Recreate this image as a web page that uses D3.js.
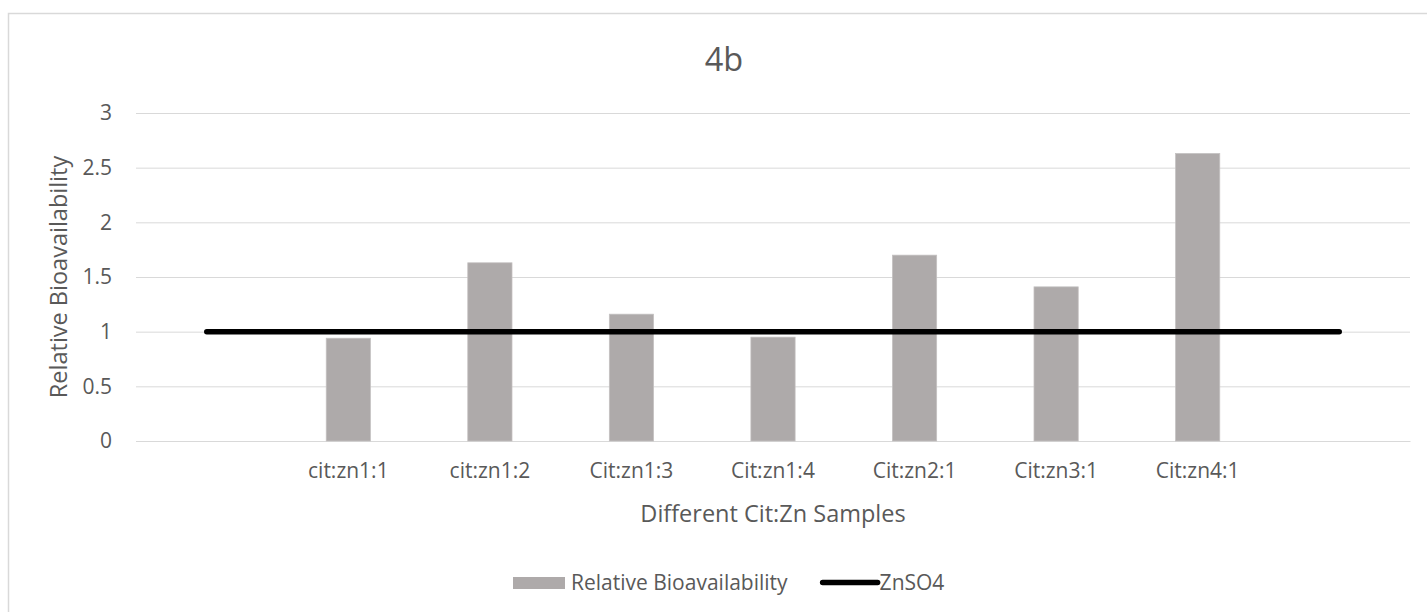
<!DOCTYPE html>
<html>
<head>
<meta charset="utf-8">
<script src="https://cdn.jsdelivr.net/npm/d3@7"></script>
<style>
  html, body { margin: 0; padding: 0; background: #fff; }
  svg { display: block; }
  text { font-family: "Open Sans", "Liberation Sans", sans-serif; fill: #595959; }
</style>
</head>
<body>
<svg id="chart" width="1427" height="612"></svg>
<script>
// Sample categories (the empty first and last slots pad the ZnSO4 reference line)
const categories = ["", "cit:zn1:1", "cit:zn1:2", "Cit:zn1:3", "Cit:zn1:4", "Cit:zn2:1", "Cit:zn3:1", "Cit:zn4:1", ""];
const relativeBioavailability = [null, 0.94, 1.63, 1.16, 0.95, 1.70, 1.41, 2.63, null];
const znso4 = [1, 1, 1, 1, 1, 1, 1, 1, 1];
const yTicks = [0, 0.5, 1, 1.5, 2, 2.5, 3];
const yTickLabels = ["0", "0.5", "1", "1.5", "2", "2.5", "3"];
const title = "4b";
const xTitle = "Different Cit:Zn Samples";
const yTitle = "Relative Bioavailability";
const legendLabels = ["Relative Bioavailability", "ZnSO4"];

const svg = d3.select("#chart");
const W = 1427, H = 612;
const plot = { left: 136, right: 1410, top: 113, bottom: 441 };
const chartCenterX = 724;
const FONT = "'Open Sans', 'Liberation Sans', sans-serif";
const tickSize = 21, axisTitleSize = 23.5, titleSize = 32.5;

const barColor = "#AEAAAA";
const gridColor = "#D9D9D9";

// chart frame (left and top edges fall inside the view)
svg.append("path")
  .attr("d", `M8.5,${H} V13.5 H${W}`)
  .attr("fill", "none").attr("stroke", gridColor).attr("stroke-width", 1.5);

const x = d3.scaleBand().domain(d3.range(categories.length))
  .range([plot.left, plot.right]).paddingInner(0).paddingOuter(0);
const y = d3.scaleLinear().domain([0, 3]).range([plot.bottom, plot.top]);

// horizontal gridlines and value labels
const yAxis = d3.axisLeft(y).tickValues(yTicks)
  .tickFormat((d, i) => yTickLabels[i]).tickSize(-(plot.right - plot.left)).tickPadding(24);
const gy = svg.append("g").attr("transform", `translate(${plot.left},0)`).call(yAxis);
gy.select(".domain").remove();
gy.selectAll(".tick line").attr("stroke", gridColor).attr("stroke-width", 1);
gy.selectAll(".tick text").attr("font-size", tickSize).attr("fill", "#595959")
  .style("font-family", FONT);

// category axis
const xAxis = d3.axisBottom(x).tickFormat(i => categories[i]).tickSize(0).tickPadding(22);
const gx = svg.append("g").attr("transform", `translate(0,${plot.bottom})`).call(xAxis);
gx.select(".domain").attr("stroke", gridColor);
gx.selectAll(".tick text").attr("font-size", tickSize).attr("fill", "#595959")
  .style("font-family", FONT);

// bars: gap width 220% of the bar width
const barW = x.bandwidth() / 3.2;
svg.append("g").selectAll("rect")
  .data(relativeBioavailability.map((v, i) => ({ v, i })).filter(d => d.v != null))
  .join("rect")
  .attr("x", d => x(d.i) + (x.bandwidth() - barW) / 2)
  .attr("y", d => y(d.v))
  .attr("width", barW)
  .attr("height", d => y(0) - y(d.v))
  .attr("fill", barColor)
  .attr("stroke", "#C4C1C1").attr("stroke-width", 0.75);

// ZnSO4 reference line
const line = d3.line()
  .x((d, i) => x(i) + x.bandwidth() / 2)
  .y(d => y(d));
svg.append("path").datum(znso4)
  .attr("d", line)
  .attr("fill", "none").attr("stroke", "#000").attr("stroke-width", 5.5)
  .attr("stroke-linecap", "round").attr("stroke-linejoin", "round");

// titles
svg.append("text").attr("x", chartCenterX).attr("y", 71)
  .attr("text-anchor", "middle").attr("font-size", titleSize).text(title);
svg.append("text").attr("x", (plot.left + plot.right) / 2).attr("y", 522)
  .attr("text-anchor", "middle").attr("font-size", axisTitleSize).text(xTitle);
svg.append("text")
  .attr("transform", `translate(67,${(plot.top + plot.bottom) / 2}) rotate(-90)`)
  .attr("text-anchor", "middle").attr("font-size", axisTitleSize).text(yTitle);

// legend
const lg = svg.append("g");
lg.append("rect").attr("x", 513).attr("y", 577).attr("width", 52).attr("height", 12)
  .attr("fill", barColor);
const t1 = lg.append("text").attr("x", 571).attr("y", 590).attr("font-size", tickSize).text(legendLabels[0]);
const t1End = 571 + t1.node().getComputedTextLength();
const lx0 = t1End + 35;
lg.append("line").attr("x1", lx0).attr("x2", lx0 + 55).attr("y1", 582.5).attr("y2", 582.5)
  .attr("stroke", "#000").attr("stroke-width", 5.5).attr("stroke-linecap", "round");
lg.append("text").attr("x", lx0 + 57).attr("y", 590).attr("font-size", tickSize).text(legendLabels[1]);
</script>
</body>
</html>
